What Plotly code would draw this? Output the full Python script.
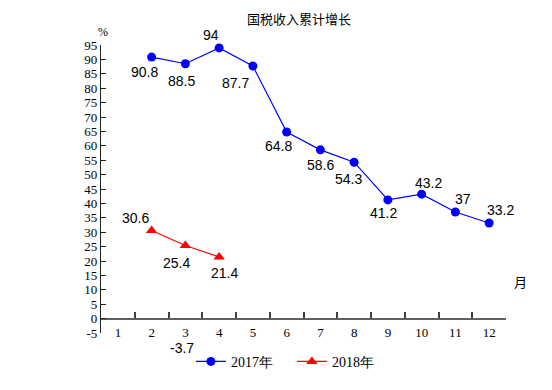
import plotly.graph_objects as go

months_2017 = [2, 3, 4, 5, 6, 7, 8, 9, 10, 11, 12]
values_2017 = [90.8, 88.5, 94, 87.7, 64.8, 58.6, 54.3, 41.2, 43.2, 37, 33.2]
labels_2017 = ["90.8", "88.5", "94", "87.7", "64.8", "58.6", "54.3", "41.2", "43.2", "37", "33.2"]

months_2018 = [2, 3, 4]
values_2018 = [30.6, 25.4, 21.4]
labels_2018 = ["30.6", "25.4", "21.4"]

note_x = [3]
note_y = [-3.7]
note_text = ["-3.7"]

x_ticks = list(range(1, 13))
x_bounds = [m + 0.5 for m in range(1, 13)]
y_ticks = list(range(-5, 100, 5))
y_ticktext = [str(v) for v in y_ticks]

# label offsets in pixels (dx right, dy down) - styling only
off_2017 = [(-7, 15), (-4, 17), (-8, -13), (-17, 17), (-8, 14), (0, 15),
            (-6, 17), (-4, 13), (7, -11), (8, -13), (11, -13)]
off_2018 = [(-16, -12), (-9, 18), (5, 16)]
off_note = [(-3, 19)]

serif = "Liberation Serif, Times New Roman, serif"
sans = "Liberation Sans, Arial, sans-serif"

fig = go.Figure()
fig.add_trace(go.Scatter(
    x=months_2017, y=values_2017, name="2017年", mode="lines+markers",
    line=dict(color="#0000FF", width=1.2),
    marker=dict(symbol="circle", size=9, color="#0000FF"),
    cliponaxis=False, xaxis="x", yaxis="y",
))
fig.add_trace(go.Scatter(
    x=months_2018, y=values_2018, name="2018年", mode="lines+markers",
    line=dict(color="#FF0000", width=1.2),
    marker=dict(symbol="triangle-up", size=10, color="#FF0000"),
    cliponaxis=False, xaxis="x2", yaxis="y",
))

annotations = []
for xs, ys, ts, offs in [(months_2017, values_2017, labels_2017, off_2017),
                         (months_2018, values_2018, labels_2018, off_2018),
                         (note_x, note_y, note_text, off_note)]:
    for xv, yv, tv, (dx, dy) in zip(xs, ys, ts, offs):
        annotations.append(dict(
            x=xv, y=yv, xref="x", yref="y", text=tv, showarrow=False,
            xanchor="center", yanchor="middle", xshift=dx, yshift=-dy,
            font=dict(family=sans, size=14, color="#000000")))

annotations += [
    dict(text="国税收入累计增长", xref="paper", yref="paper", x=0.49, y=1.093,
         xanchor="center", yanchor="middle",
         showarrow=False, font=dict(family="Noto Sans CJK SC", size=13, color="#000000")),
    dict(text="%", xref="paper", yref="paper", x=0.005, y=1.045,
         xanchor="center", yanchor="middle",
         showarrow=False, font=dict(family=serif, size=12, color="#000000")),
    dict(text="月", xref="paper", yref="paper", x=1.035, y=0.18,
         xanchor="center", yanchor="middle",
         showarrow=False, font=dict(family="Noto Sans CJK SC", size=13, color="#000000")),
]

fig.update_layout(
    width=544, height=382,
    margin=dict(l=93, r=46, t=37, b=55),
    plot_bgcolor="white", paper_bgcolor="white",
    showlegend=True,
    legend=dict(orientation="h", x=0.222, xanchor="left", y=-0.1, yanchor="middle",
                font=dict(family=serif, size=14, color="#000000"),
                entrywidth=56, tracegroupgap=0, bgcolor="rgba(0,0,0,0)"),
    xaxis=dict(range=[0.5, 12.5], tickmode="array", tickvals=x_ticks,
               ticktext=[str(v) for v in x_ticks],
               showgrid=False, zeroline=False, showline=False, ticks="",
               tickfont=dict(family=serif, size=13, color="#000000"),
               ticklabelstandoff=-10),
    xaxis2=dict(range=[0.5, 12.5], overlaying="x", anchor="free", position=0.05,
                side="bottom", matches="x",
                tickmode="array", tickvals=x_bounds, showticklabels=False,
                ticks="inside", ticklen=6, tickwidth=1.5, tickcolor="#404040",
                showgrid=False, zeroline=False,
                showline=True, linecolor="#606060", linewidth=2),
    yaxis=dict(range=[-5, 95], tickmode="array", tickvals=y_ticks, ticktext=y_ticktext,
               showgrid=False, zeroline=False,
               showline=True, linecolor="#202020", linewidth=1.2,
               ticks="inside", ticklen=5, tickwidth=1.2, tickcolor="#202020",
               tickfont=dict(family=serif, size=13, color="#000000")),
    annotations=annotations,
)

fig.write_html("out.html")
